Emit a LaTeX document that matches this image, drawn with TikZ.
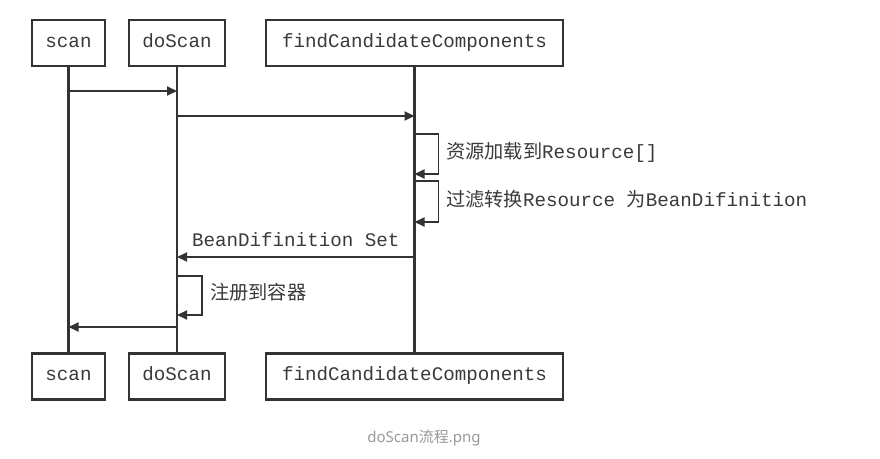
\documentclass[tikz,border=0pt]{standalone}
\usepackage{fontspec}
\setmonofont{Liberation Mono}
\setsansfont{Noto Sans}
\newfontfamily\cjk{Noto Sans CJK SC}
\usetikzlibrary{arrows.meta}
\definecolor{ln}{HTML}{333333}
\definecolor{tx}{HTML}{3A3A3A}
\definecolor{cap}{HTML}{999999}
\begin{document}
\begin{tikzpicture}[x=1pt,y=-1pt,
  actor/.style={draw=ln,line width=2.1pt,fill=white,minimum height=46pt,inner sep=0pt,
    text height=12pt,text depth=3.5pt,
    font=\ttfamily\fontsize{19.2}{21}\selectfont,text=tx},
  life/.style={draw=ln,line width=2.1pt},
  msg/.style={draw=ln,line width=1.9pt,-{Triangle[length=10pt,width=9pt]}},
  lbl/.style={font=\fontsize{19.2}{21}\selectfont,text=tx,inner sep=0pt}]
\useasboundingbox (0,0) rectangle (880,458);
\fill[white] (0,0) rectangle (880,458);
\node[actor,minimum width=73pt] (sT) at (68.5,43) {scan};
\node[actor,minimum width=96pt] (dT) at (177,43) {doScan};
\node[actor,minimum width=297pt] (fT) at (414.5,43) {findCandidateComponents};
\node[actor,minimum width=73pt] (sB) at (68.5,376.5) {scan};
\node[actor,minimum width=96pt] (dB) at (177,376.5) {doScan};
\node[actor,minimum width=297pt] (fB) at (414.5,376.5) {findCandidateComponents};
\draw[life] (sT.south) -- (sB.north);
\draw[life] (dT.south) -- (dB.north);
\draw[life] (fT.south) -- (fB.north);
\coordinate (a1) at (sT |- 0,91);  \coordinate (b1) at (dT |- 0,91);
\coordinate (a2) at (dT |- 0,116); \coordinate (b2) at (fT |- 0,116);
\coordinate (l1a) at (fT |- 0,134); \coordinate (l1b) at (fT |- 0,174);
\coordinate (l2a) at (fT |- 0,181); \coordinate (l2b) at (fT |- 0,222);
\coordinate (a3) at (fT |- 0,257); \coordinate (b3) at (dT |- 0,257);
\coordinate (l3a) at (dT |- 0,276); \coordinate (l3b) at (dT |- 0,315);
\coordinate (a4) at (dT |- 0,327); \coordinate (b4) at (sT |- 0,327);
\draw[msg] (a1) -- (b1);
\draw[msg] (a2) -- (b2);
\draw[msg] (l1a) -- ++(24,0) |- (l1b);
\draw[msg] (l2a) -- ++(24,0) |- (l2b);
\draw[msg] (a3) -- node[lbl,above=9pt,font=\ttfamily\fontsize{19.2}{21}\selectfont] (t3) {BeanDifinition Set} (b3);
\draw[msg] (l3a) -- ++(25,0) |- (l3b);
\draw[msg] (a4) -- (b4);
\node[lbl,anchor=west] (t1) at (446,152) {{\cjk 资源加载到}\texttt{Resource[]}};
\node[lbl,anchor=west] (t2) at (446,199) {{\cjk 过滤转换}\texttt{Resource }{\cjk 为}\texttt{BeanDifinition}};
\node[lbl,anchor=west] (t4) at (210,292) {{\cjk 注册到容器}};
\node[font=\sffamily\fontsize{15}{17}\selectfont,text=cap] (capt) at (424,438) {doScan{\cjk 流程}.png};
\end{tikzpicture}
\end{document}
